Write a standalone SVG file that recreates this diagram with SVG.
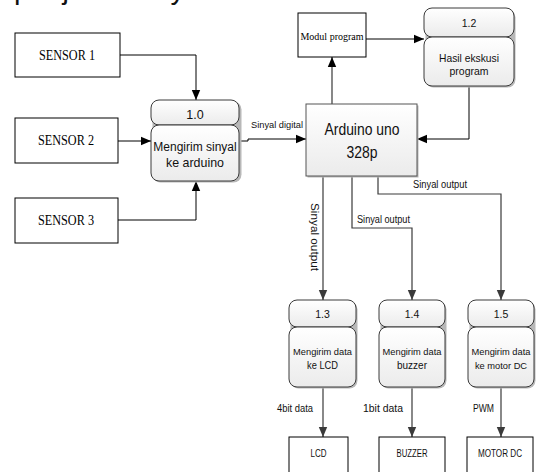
<svg xmlns="http://www.w3.org/2000/svg" width="536" height="472" viewBox="0 0 536 472">
<defs>
<linearGradient id="g" x1="0" y1="0" x2="0" y2="1"><stop offset="0" stop-color="#ffffff"/><stop offset="1" stop-color="#ebebeb"/></linearGradient>
<marker id="ah" markerUnits="userSpaceOnUse" markerWidth="10" markerHeight="10" viewBox="0 0 10 10" refX="10" refY="5" orient="auto"><path d="M0,0.8 L10,5 L0,9.2 Z" fill="#000"/></marker>
<marker id="ahg" markerUnits="userSpaceOnUse" markerWidth="10" markerHeight="10" viewBox="0 0 10 10" refX="10" refY="5" orient="auto"><path d="M0,0.8 L10,5 L0,9.2 Z" fill="#3a3a3a"/></marker>
</defs>
<style>
.ext{fill:#fff;stroke:#000;stroke-width:1}
.proc{fill:url(#g);stroke:#3a3a3a;stroke-width:1}
.shd{fill:#b8b8b8;stroke:none}
.serif{font-family:"Liberation Serif","Times New Roman",serif;fill:#000}
.sans{font-family:"Liberation Sans",Arial,sans-serif;fill:#111}
.c{text-anchor:middle}
.ln{fill:none;stroke:#000;stroke-width:1}
.lg{fill:none;stroke:#3a3a3a;stroke-width:1.2}
</style>
<text x="14" y="-1" class="sans" font-size="29" fill="#000">penjelasannya.</text>

<g id="connectors">
<polyline class="ln" points="120,55 196,55 196,100" marker-end="url(#ah)"/>
<line class="ln" x1="118" y1="141" x2="151" y2="141" marker-end="url(#ah)"/>
<polyline class="ln" points="118,220 196,220 196,181" marker-end="url(#ah)"/>
<polyline class="ln" points="240,141 248,141 248,139 306,139" marker-end="url(#ah)"/>
<text x="251" y="128" class="sans" font-size="9.5" textLength="52" lengthAdjust="spacingAndGlyphs">Sinyal digital</text>
<line x1="332" y1="104" x2="332" y2="57" fill="none" stroke="#6a6a6a" stroke-width="1.6" marker-end="url(#ah)"/>
<line class="ln" x1="366" y1="39" x2="424" y2="39" marker-end="url(#ah)"/>
<polyline class="ln" points="469,86 469,139 417,139" marker-end="url(#ah)"/>
<line class="lg" x1="323" y1="176" x2="323" y2="300" marker-end="url(#ahg)"/>
<text transform="translate(311,237) rotate(90)" class="sans c" font-size="11.5" textLength="68" lengthAdjust="spacingAndGlyphs">Sinyal output</text>
<polyline class="lg" points="352,176 352,228 412,228 412,300" marker-end="url(#ahg)"/>
<text x="357" y="223" class="sans" font-size="10" textLength="53" lengthAdjust="spacingAndGlyphs">Sinyal output</text>
<polyline class="lg" points="378,176 378,194 501,194 501,300" marker-end="url(#ahg)"/>
<text x="413" y="188" class="sans" font-size="10" textLength="54" lengthAdjust="spacingAndGlyphs">Sinyal output</text>
<line class="lg" x1="323" y1="387" x2="323" y2="437" marker-end="url(#ahg)"/>
<text x="277" y="412" class="sans" font-size="10" textLength="36" lengthAdjust="spacingAndGlyphs">4bit data</text>
<line class="lg" x1="412" y1="387" x2="412" y2="437" marker-end="url(#ahg)"/>
<text x="363" y="412" class="sans" font-size="10" textLength="40" lengthAdjust="spacingAndGlyphs">1bit data</text>
<line class="lg" x1="501" y1="387" x2="501" y2="437" marker-end="url(#ahg)"/>
<text x="473" y="412" class="sans" font-size="10" textLength="21" lengthAdjust="spacingAndGlyphs">PWM</text>
</g>

<g id="sensor1"><rect class="ext" x="15" y="33" width="105" height="44"/><text x="67" y="60" class="serif c" font-size="14" textLength="56" lengthAdjust="spacingAndGlyphs">SENSOR 1</text></g>
<g id="sensor2"><rect class="ext" x="15" y="118" width="103" height="45"/><text x="66" y="145" class="serif c" font-size="14" textLength="56" lengthAdjust="spacingAndGlyphs">SENSOR 2</text></g>
<g id="sensor3"><rect class="ext" x="15" y="198" width="103" height="45"/><text x="66" y="225" class="serif c" font-size="14" textLength="56" lengthAdjust="spacingAndGlyphs">SENSOR 3</text></g>

<g id="p10">
<rect class="shd" x="152.5" y="101.5" width="89" height="81" rx="8"/>
<rect class="proc" x="151" y="100" width="88" height="25" rx="8"/>
<rect class="proc" x="151" y="125" width="88" height="56" rx="8"/>
<text x="195" y="119" class="sans c" font-size="12.5">1.0</text>
<text x="195" y="151" class="sans c" font-size="12">Mengirim sinyal</text>
<text x="195" y="167" class="sans c" font-size="13" textLength="58" lengthAdjust="spacingAndGlyphs">ke arduino</text>
</g>

<g id="arduino">
<rect class="shd" x="307.5" y="105.5" width="111" height="72"/>
<rect x="306" y="104" width="111" height="72" fill="url(#g)" stroke="#555" stroke-width="1"/>
<text x="362" y="135" class="sans c" font-size="16.5" textLength="75" lengthAdjust="spacingAndGlyphs">Arduino uno</text>
<text x="362" y="158" class="sans c" font-size="16.5" textLength="31" lengthAdjust="spacingAndGlyphs">328p</text>
</g>

<g id="modul"><rect class="ext" x="298" y="13" width="68" height="44"/><text x="332" y="40" class="serif c" font-size="10">Modul program</text></g>

<g id="p12">
<rect class="shd" x="425.5" y="9.5" width="90" height="78" rx="8"/>
<rect class="proc" x="424" y="8" width="90" height="29" rx="8"/>
<rect class="proc" x="424" y="37" width="90" height="49" rx="8"/>
<text x="469" y="27" class="sans c" font-size="10.5">1.2</text>
<text x="469" y="62" class="sans c" font-size="11" textLength="60" lengthAdjust="spacingAndGlyphs">Hasil ekskusi</text>
<text x="469" y="75" class="sans c" font-size="11" textLength="39" lengthAdjust="spacingAndGlyphs">program</text>
</g>

<g id="p13">
<rect class="shd" x="290.5" y="301.5" width="67" height="87" rx="8"/>
<rect class="proc" x="289" y="300" width="67" height="27" rx="8"/>
<rect class="proc" x="289" y="327" width="67" height="60" rx="8"/>
<text x="322.5" y="318" class="sans c" font-size="10.5">1.3</text>
<text x="322.5" y="355" class="sans c" font-size="9.3">Mengirim data</text>
<text x="322.5" y="369" class="sans c" font-size="11" textLength="31" lengthAdjust="spacingAndGlyphs">ke LCD</text>
</g>

<g id="p14">
<rect class="shd" x="380.5" y="301.5" width="66" height="87" rx="8"/>
<rect class="proc" x="379" y="300" width="66" height="27" rx="8"/>
<rect class="proc" x="379" y="327" width="66" height="60" rx="8"/>
<text x="412" y="318" class="sans c" font-size="10.5">1.4</text>
<text x="412" y="355" class="sans c" font-size="9.3">Mengirim data</text>
<text x="412" y="369" class="sans c" font-size="11" textLength="30" lengthAdjust="spacingAndGlyphs">buzzer</text>
</g>

<g id="p15">
<rect class="shd" x="469.5" y="301.5" width="66" height="87" rx="8"/>
<rect class="proc" x="468" y="300" width="66" height="27" rx="8"/>
<rect class="proc" x="468" y="327" width="66" height="60" rx="8"/>
<text x="501" y="318" class="sans c" font-size="10.5">1.5</text>
<text x="501" y="355" class="sans c" font-size="9.3">Mengirim data</text>
<text x="501" y="369" class="sans c" font-size="9.3">ke motor DC</text>
</g>

<g id="lcd"><rect class="ext" x="289" y="437" width="59" height="40" stroke="#555"/><text x="318.5" y="457" class="sans c" font-size="10.5" textLength="16" lengthAdjust="spacingAndGlyphs">LCD</text></g>
<g id="buzzer"><rect class="ext" x="379" y="437" width="66" height="40" stroke="#555"/><text x="412" y="457" class="sans c" font-size="10.5" textLength="31" lengthAdjust="spacingAndGlyphs">BUZZER</text></g>
<g id="motordc"><rect class="ext" x="467" y="437" width="66" height="40" stroke="#555"/><text x="500" y="457" class="sans c" font-size="10" textLength="44" lengthAdjust="spacingAndGlyphs">MOTOR DC</text></g>
</svg>
